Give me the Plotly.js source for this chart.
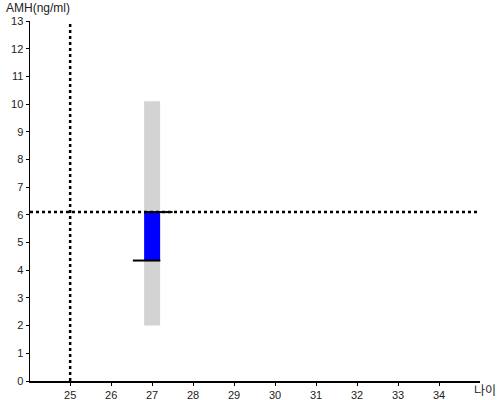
<!DOCTYPE html>
<html><head><meta charset="utf-8">
<script src="https://cdn.plot.ly/plotly-3.0.1.min.js"></script>
<style>body{margin:0}#c{width:500px;height:400px}</style>
</head><body><div id="c"></div>
<script>
// data
const ageX = [27];
const rangeLow = [2.0];
const rangeHigh = [10.1];
const valueLow = [4.35];
const valueHigh = [6.1];
const lowLineX = [26.53, 27.2];
const highLineX = [26.82, 27.5];
const refAge = 25;
const refAMH = 6.1;
const xTicks = [25,26,27,28,29,30,31,32,33,34];
const yTicks = [0,1,2,3,4,5,6,7,8,9,10,11,12,13];
const xRange = [24.02, 35.0];
const yRange = [0, 13];

const traces = [
  {type:'bar', x:ageX, base:rangeLow, y:rangeHigh.map((h,i)=>h-rangeLow[i]), width:0.39,
   marker:{color:'#d3d3d3', line:{width:0}}, hoverinfo:'skip'},
  {type:'bar', x:ageX, base:valueLow, y:valueHigh.map((h,i)=>h-valueLow[i]), width:0.39,
   marker:{color:'#0000ff', line:{width:0}}, hoverinfo:'skip'},
  {type:'scatter', mode:'lines', x:xRange, y:[refAMH, refAMH], line:{color:'#000', width:2.5, dash:'dot'}},
  {type:'scatter', mode:'lines', x:[refAge, refAge], y:yRange, line:{color:'#000', width:2.5, dash:'dot'}},
  {type:'scatter', mode:'lines', x:lowLineX, y:[valueLow[0], valueLow[0]], line:{color:'#000', width:2}},
  {type:'scatter', mode:'lines', x:highLineX, y:[valueHigh[0], valueHigh[0]], line:{color:'#000', width:2}}
];

const layout = {
  width:500, height:400,
  margin:{l:30, r:20, t:21, b:19},
  showlegend:false,
  barmode:'overlay',
  paper_bgcolor:'#fff', plot_bgcolor:'#fff',
  font:{family:'Liberation Sans, Arial, sans-serif', size:11, color:'#222'},
  xaxis:{range:xRange, tickvals:xTicks, ticks:'outside', ticklen:3, tickcolor:'#000',
    showline:true, linecolor:'#000', linewidth:1.5, showgrid:false, zeroline:false,
    tickfont:{size:11, color:'#222'}, fixedrange:true},
  yaxis:{range:yRange, tickvals:yTicks, ticks:'outside', ticklen:3, tickcolor:'#000',
    showline:true, linecolor:'#000', linewidth:1.5, showgrid:false, zeroline:false,
    tickfont:{size:11, color:'#222'}, fixedrange:true},
  annotations:[
    {text:'AMH(ng/ml)', xref:'paper', yref:'paper', x:-0.057, y:1.0, xanchor:'left', yanchor:'bottom',
     yshift:4, showarrow:false, font:{size:12, color:'#222'}},
    {text:'나이', xref:'paper', yref:'paper', x:1.038, y:0, xanchor:'right', yanchor:'bottom',
     yshift:-18, borderpad:0, showarrow:false, font:{family:'Noto Sans CJK KR', size:12, color:'#222'}}
  ]
};
Plotly.newPlot('c', traces, layout, {displayModeBar:false, staticPlot:true});
</script></body></html>
